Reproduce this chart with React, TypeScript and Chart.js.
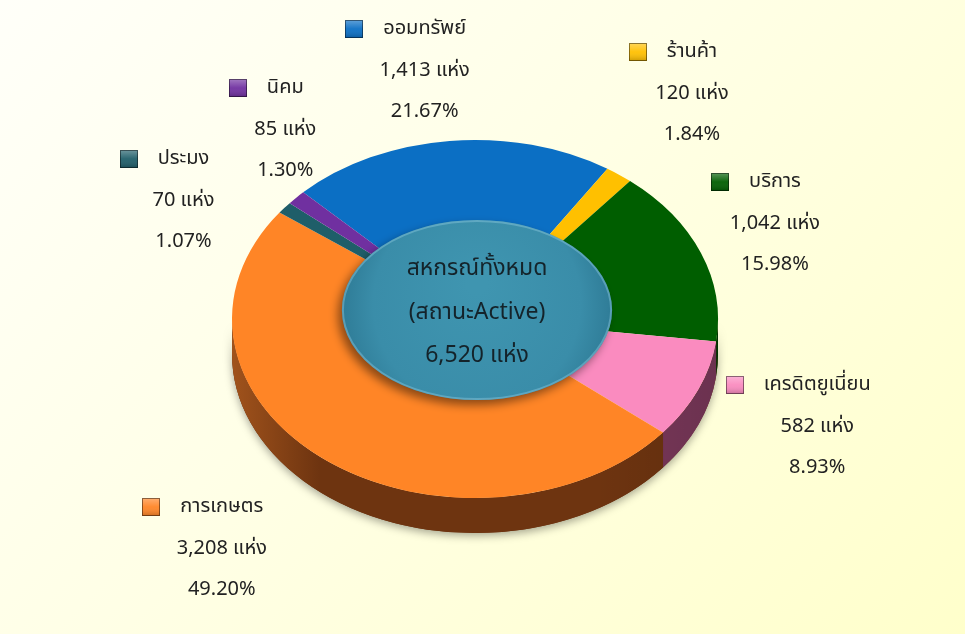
import React, { useEffect, useRef } from "react";
import { Chart, registerables } from "chart.js";

Chart.register(...registerables);

// ---------------- data ----------------
const categories = ["ออมทรัพย์", "ร้านค้า", "บริการ", "เครดิตยูเนี่ยน", "การเกษตร", "ประมง", "นิคม"];
const counts = [1413, 120, 1042, 582, 3208, 70, 85];
const unitLabel = "แห่ง";
const centerTitle = ["สหกรณ์ทั้งหมด", "(สถานะActive)"];

// ---------------- styles ----------------
const topColors = ["#0B6FC4", "#FFC000", "#005E00", "#FA8BBF", "#FF8526", "#1F5E69", "#7030A0"];
const sideColors = ["#064A85", "#A87E00", "#003A00", "#7A385A", "#6E3410", "#123A42", "#46206A"];
// label block offsets (px) from the arc's outer mid-point
const labelOffsets: [number, number][] = [
  [-25, -111],
  [73, -122],
  [74, -70],
  [119, -4],
  [-104, 48],
  [-101, -48],
  [-11, -109],
];
const FONT = "Tahoma, 'Noto Sans Thai', 'Noto Sans', 'DejaVu Sans', sans-serif";
const K = 0.737; // vertical squash of the tilted disc
const DEPTH = 35; // thickness of the 3D side

const total = counts.reduce((a, b) => a + b, 0);
const fmt = (n: number) => n.toLocaleString("en-US");

function marker(ctx: CanvasRenderingContext2D, x: number, y: number, s: number, color: string) {
  ctx.fillStyle = color;
  ctx.fillRect(x, y, s, s);
  const g = ctx.createLinearGradient(x, y, x, y + s);
  g.addColorStop(0, "rgba(255,255,255,0.35)");
  g.addColorStop(0.5, "rgba(255,255,255,0.05)");
  g.addColorStop(1, "rgba(0,0,0,0.2)");
  ctx.fillStyle = g;
  ctx.fillRect(x, y, s, s);
  ctx.strokeStyle = "rgba(0,0,0,0.45)";
  ctx.lineWidth = 1;
  ctx.strokeRect(x + 0.5, y + 0.5, s - 1, s - 1);
}

const pie3d = {
  id: "pie3d",
  beforeDatasetsDraw(chart: any) {
    const ctx: CanvasRenderingContext2D = chart.ctx;
    const arcs = chart.getDatasetMeta(0).data;
    if (!arcs.length) return;
    const { x: cx, y: cy, outerRadius: r } = arcs[0].getProps(["x", "y", "outerRadius"], true);
    ctx.save();
    // drop shadow of the whole disc
    ctx.shadowColor = "rgba(0,0,0,0.35)";
    ctx.shadowBlur = 8;
    ctx.shadowOffsetY = 3;
    ctx.beginPath();
    ctx.ellipse(cx, cy, r, r * K, 0, 0, Math.PI, false);
    ctx.ellipse(cx, cy + DEPTH, r, r * K, 0, Math.PI, 0, true);
    ctx.closePath();
    ctx.fillStyle = "#6E3410";
    ctx.fill();
    ctx.shadowColor = "transparent";
    // side walls per slice
    arcs.forEach((arc: any, i: number) => {
      const { startAngle, endAngle } = arc.getProps(["startAngle", "endAngle"], true);
      for (let n = -2; n <= 2; n++) {
        const lo = Math.max(startAngle, 2 * Math.PI * n);
        const hi = Math.min(endAngle, 2 * Math.PI * n + Math.PI);
        if (hi > lo) {
          ctx.beginPath();
          ctx.ellipse(cx, cy, r, r * K, 0, lo, hi, false);
          ctx.ellipse(cx, cy + DEPTH, r, r * K, 0, hi, lo, true);
          ctx.closePath();
          ctx.fillStyle = sideColors[i];
          ctx.fill();
        }
      }
    });
    // lighting across the side
    const g = ctx.createLinearGradient(cx - r, 0, cx + r, 0);
    g.addColorStop(0, "rgba(255,140,50,0.35)");
    g.addColorStop(0.18, "rgba(255,140,50,0.0)");
    g.addColorStop(0.75, "rgba(0,0,0,0.0)");
    g.addColorStop(1, "rgba(0,0,0,0.12)");
    ctx.beginPath();
    ctx.ellipse(cx, cy, r, r * K, 0, 0, Math.PI, false);
    ctx.ellipse(cx, cy + DEPTH, r, r * K, 0, Math.PI, 0, true);
    ctx.closePath();
    ctx.fillStyle = g;
    ctx.fill();
    ctx.restore();
    // squash the top face into an ellipse
    ctx.save();
    ctx.translate(cx, cy);
    ctx.scale(1, K);
    ctx.translate(-cx, -cy);
  },
  afterDatasetsDraw(chart: any) {
    const ctx: CanvasRenderingContext2D = chart.ctx;
    const arcs = chart.getDatasetMeta(0).data;
    if (!arcs.length) return;
    ctx.restore();
    const { x: cx, y: cy, outerRadius: r } = arcs[0].getProps(["x", "y", "outerRadius"], true);

    // center disc
    const dx = cx + 2;
    const dy = cy - 9;
    const rx = r * 0.556;
    const ry = rx * 0.667;
    ctx.save();
    ctx.shadowColor = "rgba(0,0,0,0.45)";
    ctx.shadowBlur = 10;
    ctx.shadowOffsetX = -4;
    ctx.shadowOffsetY = 5;
    const rg = ctx.createRadialGradient(dx, dy - ry * 0.3, 10, dx, dy, rx);
    rg.addColorStop(0, "#3F95B0");
    rg.addColorStop(0.75, "#3A8DA9");
    rg.addColorStop(1, "#2F7C97");
    ctx.beginPath();
    ctx.ellipse(dx, dy, rx, ry, 0, 0, Math.PI * 2);
    ctx.fillStyle = rg;
    ctx.fill();
    ctx.restore();
    ctx.save();
    ctx.beginPath();
    ctx.ellipse(dx, dy, rx - 1, ry - 1, 0, 0, Math.PI * 2);
    ctx.strokeStyle = "rgba(140,200,222,0.45)";
    ctx.lineWidth = 2;
    ctx.stroke();
    ctx.fillStyle = "#14232A";
    ctx.font = `23px ${FONT}`;
    ctx.textAlign = "center";
    ctx.textBaseline = "middle";
    ctx.fillText(centerTitle[0], cx + 2, cy - 49);
    ctx.fillText(centerTitle[1], cx + 2, cy - 5);
    ctx.fillText(`${fmt(total)} ${unitLabel}`, cx + 2, cy + 38);
    ctx.restore();

    // labels
    ctx.save();
    ctx.font = `20px ${FONT}`;
    ctx.textBaseline = "middle";
    ctx.textAlign = "center";
    arcs.forEach((arc: any, i: number) => {
      const { startAngle, endAngle } = arc.getProps(["startAngle", "endAngle"], true);
      const mid = (startAngle + endAngle) / 2;
      const px = cx + r * Math.cos(mid);
      const py = cy + r * K * Math.sin(mid);
      const lx = px + labelOffsets[i][0];
      const ly = py + labelOffsets[i][1];
      const name = categories[i];
      const w = ctx.measureText(name).width;
      ctx.fillStyle = "#222";
      ctx.fillText(name, lx, ly);
      ctx.fillText(`${fmt(counts[i])} ${unitLabel}`, lx, ly + 42);
      ctx.fillText(`${((counts[i] / total) * 100).toFixed(2)}%`, lx, ly + 83);
      const s = 18;
      marker(ctx, Math.round(lx - w / 2 - 20 - s), Math.round(ly - s / 2 - 1), s, topColors[i]);
    });
    ctx.restore();
  },
};

export default function App() {
  const ref = useRef<HTMLCanvasElement>(null);
  useEffect(() => {
    document.body.style.margin = "0";
    const canvas = ref.current!;
    const chart = new Chart(canvas, {
      type: "doughnut",
      data: {
        labels: categories,
        datasets: [
          {
            data: counts,
            backgroundColor: topColors,
            borderWidth: 0,
            hoverOffset: 0,
          },
        ],
      },
      options: {
        responsive: false,
        animation: false,
        rotation: -45,
        cutout: "42%",
        layout: { padding: { left: 232, right: 247, top: 76, bottom: 72 } },
        plugins: {
          legend: { display: false },
          tooltip: { enabled: false },
        },
        events: [],
      },
      plugins: [pie3d],
    });
    return () => chart.destroy();
  }, []);
  return (
    <div
      style={{
        width: 965,
        height: 634,
        background: "linear-gradient(135deg, #FFFFF9 0%, #FFFFE6 45%, #FFFFCB 100%)",
      }}
    >
      <canvas ref={ref} width={965} height={634} style={{ display: "block", width: 965, height: 634 }} />
    </div>
  );
}
